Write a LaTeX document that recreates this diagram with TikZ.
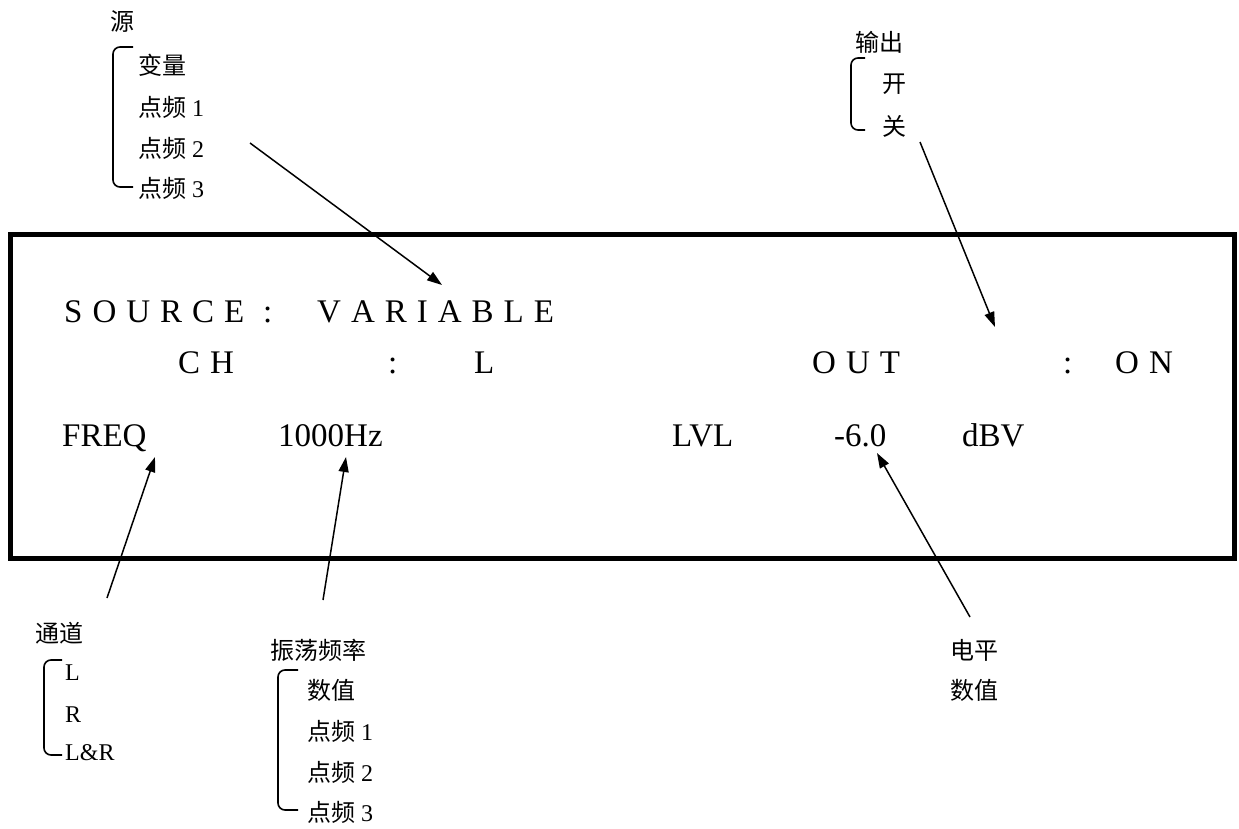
\documentclass[tikz,border=0pt]{standalone}
\usepackage{fontspec}
\setmainfont{Liberation Serif}
\newfontfamily\cjk{Noto Sans CJK SC}
\usetikzlibrary{arrows.meta}
\newcommand\ls{\hspace{10pt}}
\tikzset{
  big/.style={inner sep=0pt, anchor=base west, font=\fontsize{33}{36}\selectfont},
  lab/.style={inner sep=0pt, anchor=west, font=\fontsize{24}{28}\selectfont},
  brk/.style={line width=1.6pt, rounded corners=7pt},
  arr/.style={line width=1.5pt, -{Triangle[length=15pt,width=10pt]}},
  frame/.style={line width=5pt}
}
\begin{document}
\begin{tikzpicture}[x=1pt,y=-1pt]
\useasboundingbox (0,0) rectangle (1239,829);
\draw[frame] (10.5,234.5) rectangle (1234.5,558.5);
% row 1
\node[big] (src) at (64,322) {S\ls O\ls U\ls R\ls C\ls E};
\node[big] (c1) at (263,322) {:};
\node[big] (var) at (317,322) {V\ls A\ls R\ls I\ls A\ls B\ls L\ls E};
% row 2
\node[big] (ch) at (178,373) {C\ls H};
\node[big] (c2) at (388,373) {:};
\node[big] (chv) at (474,373) {L};
\node[big] (out) at (812,373) {O\ls U\ls T};
\node[big] (c3) at (1063,373) {:};
\node[big] (on) at (1115,373) {O\ls N};
% row 3
\node[big] (freq) at (62,446) {FREQ};
\node[big] (hz) at (278,446) {1000Hz};
\node[big] (lvl) at (672,446) {LVL};
\node[big] (val) at (834,446) {-6.0};
\node[big] (dbv) at (962,446) {dBV};
% top-left labels
\node[lab] (yuan) at (110,22) {\cjk 源};
\draw[brk] (133,47) -- (113,47) -- (113,187) -- (133,187);
\node[lab] (s1) at (138,65) {\cjk 变量};
\node[lab] (s2) at (138,107) {{\cjk 点频} 1};
\node[lab] (s3) at (138,148) {{\cjk 点频} 2};
\node[lab] (s4) at (138,188) {{\cjk 点频} 3};
% top-right labels
\node[lab] (shuchu) at (855,42) {\cjk 输出};
\draw[brk] (865,58) -- (851,58) -- (851,130) -- (865,130);
\node[lab] (kai) at (882,84) {\cjk 开};
\node[lab] (guan) at (882,126) {\cjk 关};
% bottom-left
\node[lab] (tongdao) at (35,633) {\cjk 通道};
\draw[brk] (62,660) -- (44,660) -- (44,755) -- (62,755);
\node[lab] (cl) at (65,673) {L};
\node[lab] (cr) at (65,715) {R};
\node[lab] (clr) at (65,753) {L\&R};
% bottom-middle
\node[lab] (zd) at (270,650) {\cjk 振荡频率};
\draw[brk] (298,670) -- (278,670) -- (278,810) -- (298,810);
\node[lab] (f1) at (307,690) {\cjk 数值};
\node[lab] (f2) at (307,731) {{\cjk 点频} 1};
\node[lab] (f3) at (307,772) {{\cjk 点频} 2};
\node[lab] (f4) at (307,812) {{\cjk 点频} 3};
% bottom-right
\node[lab] (dp) at (950,650) {\cjk 电平};
\node[lab] (sz) at (950,690) {\cjk 数值};
% arrows
\coordinate (a1s) at (250,143); \coordinate (a1e) at (442,285);
\coordinate (a2s) at (920,142); \coordinate (a2e) at (995,327);
\coordinate (a3s) at (107,598); \coordinate (a3e) at (155,457);
\coordinate (a4s) at (323,600); \coordinate (a4e) at (346,457);
\coordinate (a5s) at (970,617); \coordinate (a5e) at (877,453);
\draw[arr] (a1s) -- (a1e);
\draw[arr] (a2s) -- (a2e);
\draw[arr] (a3s) -- (a3e);
\draw[arr] (a4s) -- (a4e);
\draw[arr] (a5s) -- (a5e);
\end{tikzpicture}
\end{document}
